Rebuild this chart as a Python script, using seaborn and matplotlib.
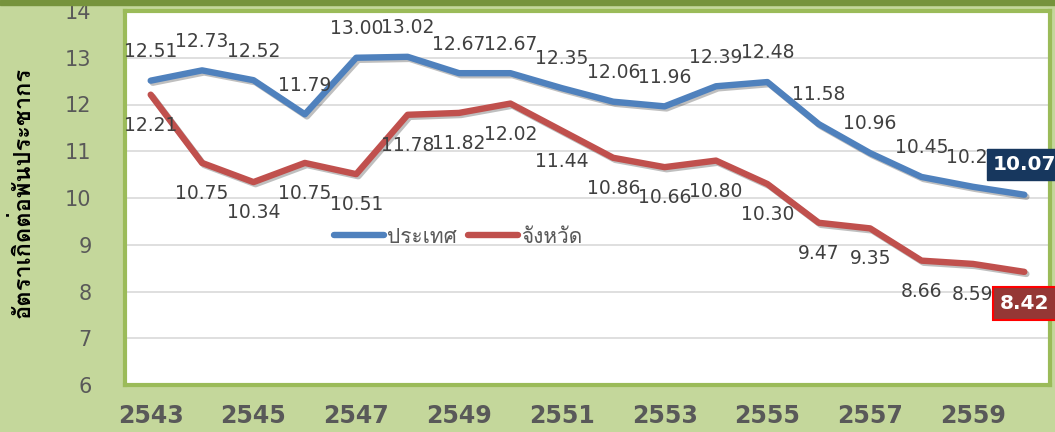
import numpy as np
import pandas as pd
import matplotlib
matplotlib.use("Agg")
import matplotlib.pyplot as plt
import matplotlib.patheffects as pe
from matplotlib import font_manager, ft2font
from matplotlib.lines import Line2D
import seaborn as sns

# ข้อมูล
years = list(range(2543, 2561))
country = [12.51, 12.73, 12.52, 11.79, 13.00, 13.02, 12.67, 12.67, 12.35,
           12.06, 11.96, 12.39, 12.48, 11.58, 10.96, 10.45, 10.24, 10.07]
province = [12.21, 10.75, 10.34, 10.75, 10.51, 11.78, 11.82, 12.02, 11.44,
            10.86, 10.66, 10.80, 10.30, 9.47, 9.35, 8.66, 8.59, 8.42]
series_names = ["ประเทศ", "จังหวัด"]
ylabel = "อัตราเกิดต่อพันประชากร"
xtick_years = list(range(2543, 2561, 2))
yticks = list(range(6, 15))

df = pd.DataFrame({
    "ปี": years * 2,
    "อัตรา": country + province,
    "พื้นที่": [series_names[0]] * len(years) + [series_names[1]] * len(years),
})


def find_font(ch, fallback="DejaVu Sans"):
    # หาฟอนต์ที่มีตัวอักษรไทย
    for f in font_manager.fontManager.ttflist:
        try:
            if ord(ch) in ft2font.FT2Font(f.fname).get_charmap():
                return f.name
        except Exception:
            pass
    return fallback


thai = find_font("ป")
fams = [thai, "DejaVu Sans"]

blue, red = "#4f81bd", "#c0504d"
txt = "#404040"

sns.set_style("white")
plt.rcParams["font.family"] = ["DejaVu Sans", thai]

fig = plt.figure(figsize=(10.55, 4.32), dpi=100, facecolor="#c4d79b")
ax = fig.add_axes([125 / 1055, 47 / 432, 925 / 1055, 374 / 432])
fig.add_artist(plt.Rectangle((0, 1 - 5 / 432), 1, 5 / 432, transform=fig.transFigure,
                             color="#76933c", zorder=20))

shadow = [pe.SimpleLineShadow(offset=(1.5, -1.5), alpha=0.25), pe.Normal()]
sns.lineplot(data=df, x="ปี", y="อัตรา", hue="พื้นที่", palette=[blue, red],
             linewidth=4.6, ax=ax, legend=False, path_effects=shadow,
             solid_capstyle="round", solid_joinstyle="round")

ax.set_xlim(2542.5, 2560.5)
ax.set_ylim(6, 14)
ax.set_yticks(yticks)
ax.set_xticks(xtick_years)
ax.set_yticklabels([str(v) for v in yticks], fontsize=15, color="#595959")
ax.set_xticklabels([str(v) for v in xtick_years], fontsize=17, fontweight="bold",
                   color="#595959", family=["Liberation Sans Narrow", "DejaVu Sans"])
ax.tick_params(axis="y", length=0, pad=24)
ax.tick_params(axis="x", length=0, pad=14)
ax.grid(axis="y", color="#d9d9d9", linewidth=1.2)
ax.set_facecolor("white")
for s in ax.spines.values():
    s.set_color("#9bbb59")
    s.set_linewidth(3)
ax.set_xlabel("")
ax.set_ylabel(ylabel, fontsize=17, fontweight="bold", color="black", family=fams)
ax.yaxis.set_label_coords(-0.098, 0.515)

# ป้ายข้อมูล
for i, (yr, a, b) in enumerate(zip(years, country, province)):
    if i == len(years) - 1:
        continue
    ax.annotate(f"{a:.2f}", (yr, a), xytext=(0, 21), textcoords="offset points",
                ha="center", va="center", fontsize=13.5, color=txt, zorder=5)
    ax.annotate(f"{b:.2f}", (yr, b), xytext=(0, -22), textcoords="offset points",
                ha="center", va="center", fontsize=13.5, color=txt, zorder=5)

ax.annotate(f"{country[-1]:.2f}", (years[-1], country[-1]), xytext=(0, 22),
            textcoords="offset points", ha="center", va="center", fontsize=14.5,
            fontweight="bold", color="white", zorder=10, annotation_clip=False,
            bbox=dict(boxstyle="square,pad=0.3", fc="#17375e", ec="#17375e"))
ax.annotate(f"{province[-1]:.2f}", (years[-1], province[-1]), xytext=(0, -23),
            textcoords="offset points", ha="center", va="center", fontsize=14.5,
            fontweight="bold", color="white", zorder=10, annotation_clip=False,
            bbox=dict(boxstyle="square,pad=0.35", fc="#953735", ec="#ff0000", lw=1.5))

handles = [Line2D([], [], color=blue, lw=4.6, solid_capstyle="round"),
           Line2D([], [], color=red, lw=4.6, solid_capstyle="round")]
leg = ax.legend(handles, series_names, loc="center", bbox_to_anchor=(0.36, 0.395),
                ncol=2, frameon=False, handlelength=2.4, handletextpad=0.15,
                columnspacing=0.5, prop={"family": fams, "size": 15})
for t in leg.get_texts():
    t.set_color("#595959")

fig.savefig("out.png", dpi=100, facecolor=fig.get_facecolor())
